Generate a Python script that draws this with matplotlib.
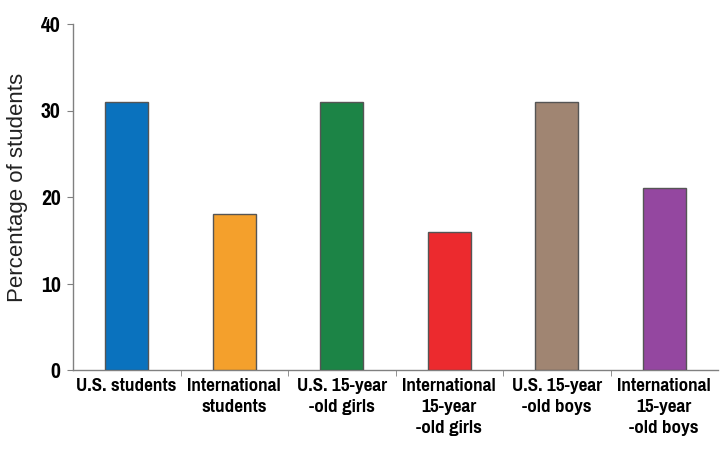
import matplotlib
matplotlib.use("Agg")
import matplotlib.pyplot as plt
import numpy as np

categories = ["U.S. students", "International\nstudents", "U.S. 15-year\n-old girls",
              "International\n15-year\n-old girls", "U.S. 15-year\n-old boys",
              "International\n15-year\n-old boys"]
values = [31, 18, 31, 16, 31, 21]
colors = ["#0A72BE", "#F4A02C", "#1C8446", "#EC2A2E", "#A08572", "#9447A0"]
yticks = [0, 10, 20, 30, 40]

narrow = ["Pragati Narrow", "Liberation Sans", "DejaVu Sans"]
regular = ["Liberation Sans", "DejaVu Sans"]

fig = plt.figure(figsize=(7.2, 4.49), dpi=100)
ax = fig.add_axes([73/720, 1 - 370/449, (718 - 73)/720, (370 - 24)/449])

x = np.arange(len(categories))
ax.bar(x, values, width=0.4, color=colors, edgecolor="#555555", linewidth=1.0, zorder=3)

ax.set_xlim(-0.5, len(categories) - 0.5)
ax.set_ylim(0, 40)
ax.set_yticks(yticks)
ax.set_yticklabels([str(t) for t in yticks], family=narrow, fontweight="bold", fontsize=17)

ax.set_xticks(x)
ax.set_xticklabels(categories, family=narrow, fontweight="bold", fontsize=15,
                   linespacing=1.38, va="top")
ax.tick_params(axis="x", which="major", length=0, pad=6)
ax.set_xticks(np.arange(len(categories) - 1) + 0.5, minor=True)
ax.tick_params(axis="x", which="minor", length=4, direction="out", color="#808080")
ax.tick_params(axis="y", which="major", length=4, direction="out", color="#808080", pad=5)

for s in ["top", "right"]:
    ax.spines[s].set_visible(False)
for s in ["left", "bottom"]:
    ax.spines[s].set_color("#808080")
    ax.spines[s].set_linewidth(1.0)

ax.set_ylabel("Percentage of students", family=regular, fontsize=16, color="#222222")
ax.yaxis.set_label_coords(-0.07, 0.529)

fig.savefig("out.png", dpi=100)
